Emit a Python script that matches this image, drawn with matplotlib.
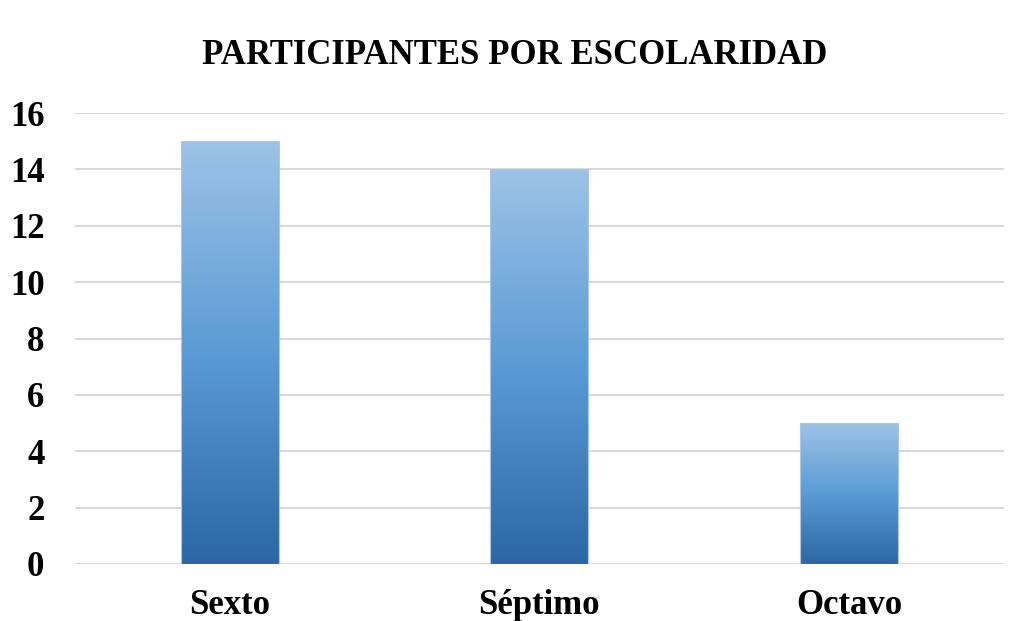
import numpy as np
import matplotlib.pyplot as plt
from matplotlib.colors import LinearSegmentedColormap

# data
categories = ['Sexto', 'Séptimo', 'Octavo']
values = [15, 14, 5]
yticks = [0, 2, 4, 6, 8, 10, 12, 14, 16]

plt.rcParams['font.family'] = ['Liberation Serif', 'DejaVu Serif']
plt.rcParams['font.weight'] = 'bold'

fig = plt.figure(figsize=(10.22, 6.21), dpi=100)
ax = fig.add_axes([0.0734, 0.0918, 0.9086, 0.7262])

cmap = LinearSegmentedColormap.from_list('grad', ['#2C67A3', '#5B9BD5', '#9DC3E6'])
grad = np.linspace(0, 1, 256).reshape(-1, 1)

width = 0.317
x = np.arange(len(categories))
bars = ax.bar(x, values, width=width, color='none', edgecolor='#A9C9EA', linewidth=0.8, zorder=3)
for b in bars:
    x0, y0 = b.get_x(), b.get_y()
    ax.imshow(grad, cmap=cmap, origin='lower', aspect='auto', zorder=2,
              extent=[x0, x0 + b.get_width(), y0, y0 + b.get_height()])

ax.set_xlim(-0.5, len(categories) - 0.5)
ax.set_ylim(0, 16)
ax.set_yticks(yticks)
ax.set_xticks(x)
ax.set_xticklabels(categories)
ax.yaxis.grid(True, color='#D9D9D9', linewidth=1.5, zorder=0)
ax.set_axisbelow(True)
for s in ax.spines.values():
    s.set_visible(False)
ax.tick_params(axis='both', length=0, labelsize=25)
ax.tick_params(axis='y', pad=22)
ax.tick_params(axis='x', pad=18)

fig.suptitle('PARTICIPANTES POR ESCOLARIDAD', x=0.504, y=0.91, va='center',
             fontsize=25, fontweight='bold')

fig.savefig('out.png', dpi=100)
